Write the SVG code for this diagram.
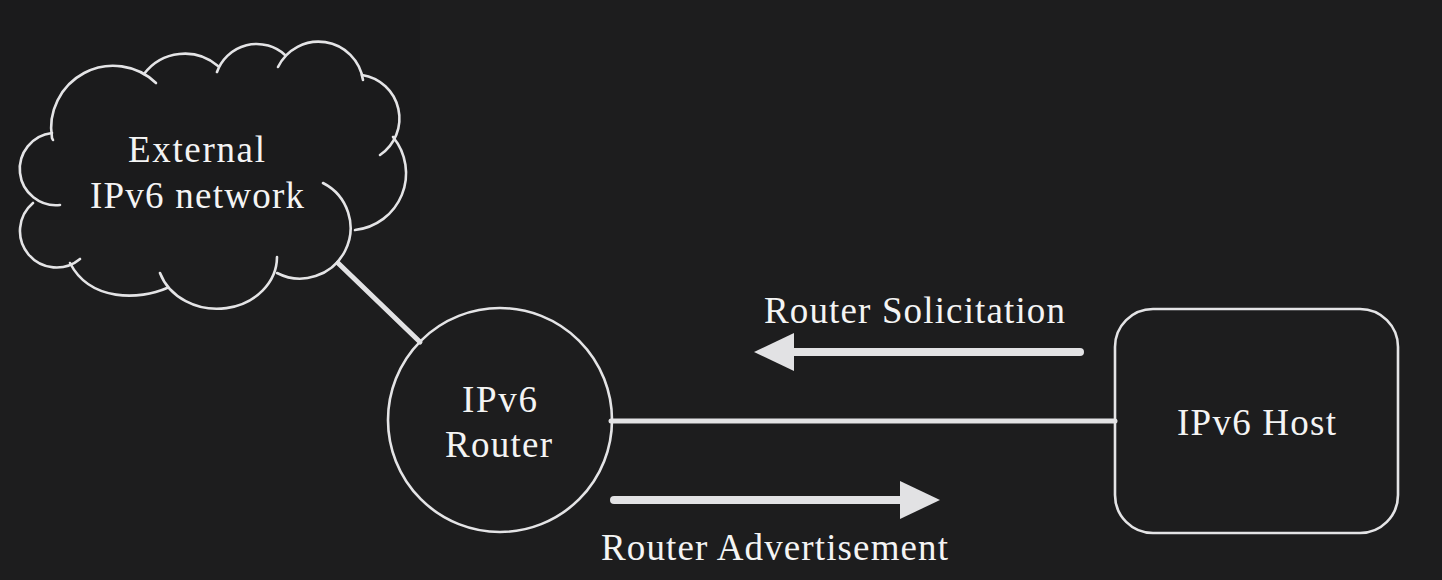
<svg xmlns="http://www.w3.org/2000/svg" width="1442" height="580" viewBox="0 0 1442 580">
  <defs>
    <style>
      .bg { fill: #1d1d1e; }
      .outline { fill: none; stroke: #e4e4e6; stroke-width: 2.6; stroke-linecap: round; }
      .link { stroke: #e2e2e4; stroke-width: 5; stroke-linecap: round; fill: none; }
      .flow { stroke: #e2e2e4; stroke-width: 8; stroke-linecap: round; fill: none; }
      .label { font-family: "Liberation Serif", "Times New Roman", serif; font-size: 37px; fill: #f4f4f4; }
    </style>
    <marker id="head" markerUnits="userSpaceOnUse" viewBox="0 0 40 38" markerWidth="40" markerHeight="38" refX="2" refY="19" orient="auto">
      <path d="M0,0 L40,19 L0,38 z" fill="#e2e2e4"/>
    </marker>
  </defs>

  <rect class="bg" x="0" y="0" width="1442" height="580"/>
  <rect x="0" y="0" width="420" height="220" fill="#1b1b1c"/>

  <g id="connectors">
    <line class="link" x1="338" y1="263" x2="420" y2="342"/>
    <line class="link" x1="611" y1="421" x2="1115" y2="421"/>
    <line class="flow" x1="1080" y1="352" x2="792" y2="352" marker-end="url(#head)"/>
    <line class="flow" x1="614" y1="500" x2="902" y2="500" marker-end="url(#head)"/>
    <text class="label" x="764" y="323" textLength="301" lengthAdjust="spacing">Router Solicitation</text>
    <text class="label" x="601" y="560" textLength="347" lengthAdjust="spacing">Router Advertisement</text>
  </g>

  <g id="external-network">
    <path class="outline" d="M53,140 L52,138 A62,62 0 0 1 156,83"/>
    <path class="outline" d="M144,74 A51,51 0 0 1 218,66"/>
    <path class="outline" d="M217,72 A42,42 0 0 1 285,55"/>
    <path class="outline" d="M278,67 A45,45 0 0 1 363,80"/>
    <path class="outline" d="M362,75 A44,44 0 0 1 380,155"/>
    <path class="outline" d="M393,137 A57,57 0 0 1 355,230"/>
    <path class="outline" d="M323,183 A50,50 0 1 1 277,273"/>
    <path class="outline" d="M277,257 A60,52 0 0 1 160,273"/>
    <path class="outline" d="M167,288 C140,300 90,302 70,263"/>
    <path class="outline" d="M33,203 A35,35 0 0 0 80,259"/>
    <path class="outline" d="M60,205 A36,36 0 1 1 52,133"/>
    <text class="label" x="128" y="162" textLength="137" lengthAdjust="spacing">External</text>
    <text class="label" x="90" y="208" textLength="214" lengthAdjust="spacing">IPv6 network</text>
  </g>

  <g id="ipv6-router">
    <circle class="outline" cx="500" cy="420" r="112"/>
    <text class="label" x="462" y="412" textLength="75" lengthAdjust="spacing">IPv6</text>
    <text class="label" x="445" y="457" textLength="107" lengthAdjust="spacing">Router</text>
  </g>

  <g id="ipv6-host">
    <rect class="outline" x="1115" y="309" width="283" height="224" rx="38" ry="38"/>
    <text class="label" x="1177" y="435" textLength="159" lengthAdjust="spacing">IPv6 Host</text>
  </g>
</svg>
